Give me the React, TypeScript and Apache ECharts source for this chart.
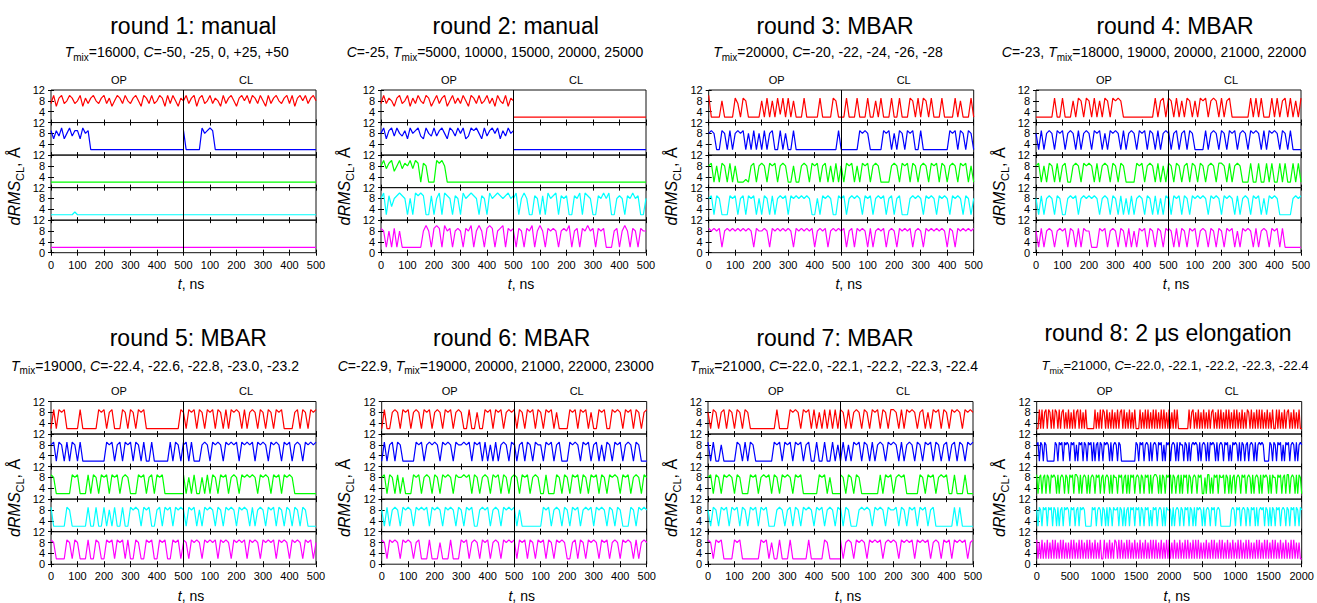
import React, { useEffect, useRef } from 'react';
import * as echarts from 'echarts';

const FONT = "'Liberation Sans', Arial, sans-serif";
const COLORS = ['#ff0000', '#0000ff', '#00ff00', '#00ffff', '#ff00ff'];

const TITLES = [
  'round 1: manual', 'round 2: manual', 'round 3: MBAR', 'round 4: MBAR',
  'round 5: MBAR', 'round 6: MBAR', 'round 7: MBAR', 'round 8: 2 µs elongation',
];

const SUBTITLES: [string, string][][] = [
  [['i', 'T'], ['s', 'mix'], ['n', '=16000, '], ['i', 'C'], ['n', '=-50, -25, 0, +25, +50']],
  [['i', 'C'], ['n', '=-25, '], ['i', 'T'], ['s', 'mix'], ['n', '=5000, 10000, 15000, 20000, 25000']],
  [['i', 'T'], ['s', 'mix'], ['n', '=20000, '], ['i', 'C'], ['n', '=-20, -22, -24, -26, -28']],
  [['i', 'C'], ['n', '=-23, '], ['i', 'T'], ['s', 'mix'], ['n', '=18000, 19000, 20000, 21000, 22000']],
  [['i', 'T'], ['s', 'mix'], ['n', '=19000, '], ['i', 'C'], ['n', '=-22.4, -22.6, -22.8, -23.0, -23.2']],
  [['i', 'C'], ['n', '=-22.9, '], ['i', 'T'], ['s', 'mix'], ['n', '=19000, 20000, 21000, 22000, 23000']],
  [['i', 'T'], ['s', 'mix'], ['n', '=21000, '], ['i', 'C'], ['n', '=-22.0, -22.1, -22.2, -22.3, -22.4']],
  [['i', 'T'], ['s', 'mix'], ['n', '=21000, '], ['i', 'C'], ['n', '=-22.0, -22.1, -22.2, -22.3, -22.4']],
];

const HALF_LABELS = ['OP', 'CL'];
const HALF_SPAN = [500, 500, 500, 500, 500, 500, 500, 2000];
const X_TICK_STEP = [100, 100, 100, 100, 100, 100, 100, 500];
const Y_TICKS = [0, 4, 8, 12];

// dRMS_CL values (Å), one hex digit per sample (a = 10)
// rounds 1-7: one sample per 10 ns (0..500 ns); round 8: one per 20 ns (0..2000 ns)
const R1_OP = [
  '7a69a78a97 8a6979a879 a7968a97a8 79a86a97a7 8a96a7a869 8',
  '9697a68a79 96a8922222 2222222222 2222222222 2222222222 2',
  '2222222222 2222222222 2222222222 2222222222 2222222222 2',
  '2222222223 2222222222 2222222222 2222222222 2222222222 2',
  '2222222222 2222222222 2222222222 2222222222 2222222222 2',
];
const R1_CL = [
  '8a79a69a78 a7986a79a8 69a8a7a97a 86a79a879a 7a69a8a79a 8',
  '9222222a89 a922222222 2222222222 2222222222 2222222222 2',
  '2222222222 2222222222 2222222222 2222222222 2222222222 2',
  '2222222222 2222222222 2222222222 2222222222 2222222222 2',
  '2222222222 2222222222 2222222222 2222222222 2222222222 2',
];
const R2_OP = [
  '7a79869a78 a697a87a96 8a79a68a79 7a86a97a78 a796a87a69 8',
  '8a69a7a879 6a89a76a87 a79a86a97a 8a67a9a86a 79a8a697a8 9',
  '8a79a68a79 8a7a929822 2a9a822222 2222222222 2222222222 2',
  '8a29589a98 282a9a9229 28a2a98298 2a89a98298 2a89a989a8 9',
  '9828292822 2222228a82 9a92a89289 8298a28a82 9a9289a298 9',
];
const R2_CL = [
  '2222222222 2222222222 2222222222 2222222222 2222222222 2',
  '2222222222 2222222222 2222222222 2222222222 2222222222 2',
  '2222222222 2222222222 2222222222 2222222222 2222222222 2',
  '8a28a82298 292a89a298 92298a2a98 2298a8a228 98298a8922 8',
  '8298298a28 a829898289 8a289298a8 9298922289 28a8298298 8',
];
const R3_OP = [
  'a222282222 9729822222 8292829392 9282229222 2292222982 2',
  '8982298292 8989282928 2928922928 2292222222 2222222229 2',
  '8928298292 8222328928 9829892898 2282289829 8928928292 8',
  '8929822298 9289298928 2982928989 2989898982 2829898229 8',
  '9898928989 8989898298 8982989898 9829898989 2898928989 8',
];
const R3_CL = [
  '2292229222 9228292229 2292229829 2982922292 2229282229 2',
  '2222222989 8222229892 8298298922 9222222222 2989298298 2',
  '8298928298 9289822228 9829892982 8982989298 2898298928 2',
  '8928989829 8928989289 2892228989 8298982989 8298982982 8',
  '8928929898 2928989289 8298989289 8298989898 2982989898 9',
];
const R4_OP = [
  '2222222922 9222829829 8292829829 8982222222 2222292892 9',
  '8292898298 9289829289 8298928298 9829289829 8929829289 8',
  '8928298292 8922898298 9829289829 8298222298 9289829282 9',
  '8292898298 2289892898 9898289829 8292829289 8298292829 8',
  '8292898289 8929829298 8222989289 8298292829 8929829829 8',
];
const R4_CL = [
  '9829282982 8298928982 9289222222 2929292229 2928929282 9',
  '9289289298 2222928982 9829892898 2989829298 9829829222 2',
  '9829828929 8298289829 9829289822 2922922929 2292922929 2',
  '9298929829 8989829898 2989829289 8298928298 9822222898 9',
  '9829298298 9289829829 8298928298 9829289829 8929222222 2',
];
const R5_OP = [
  '2929892222 2922222298 9289222982 9829892222 2222222229 8',
  '8929829298 2922222222 2989289298 9298292292 2222292982 9',
  '9822222298 9222929829 8929892898 2229892892 9892222222 2',
  '9222229822 2222922922 9282922922 9898298922 8929892989 8',
  '9822229829 8222922982 2989298929 2298229892 2989229892 8',
];
const R5_CL = [
  '8298929829 8929829298 9829289829 8298298922 2289298298 9',
  '8929222898 2989829898 9298989298 9829898298 9289829898 9',
  '9282922829 2982989289 8298989829 8982989298 9822222222 2',
  '8298928298 9829829898 2989829289 8298929829 8298298222 2',
  '9829898298 9892989829 8989298982 9898929898 2989829892 8',
];
const R6_OP = [
  '2922898298 9289829892 8982989289 8229228229 8929892898 9',
  '2928929822 2229892898 9829898298 8989298929 2829289829 8',
  '8929829282 2298928982 9829898298 8989298289 8298929828 9',
  '8292898298 9829898929 8982989829 8298922898 9289829898 9',
  '9829898298 9828922292 2282229222 9892898298 9289829898 9',
];
const R6_CL = [
  '9298298929 8298928222 2989298928 2298922989 8298929828 9',
  '9289298298 8298928922 2989829892 8928298298 9289829822 2',
  '9829892898 2292229829 8298929829 8929829898 2989289829 8',
  '9282222222 2989289829 8298928989 2989829829 8222982989 8',
  '9298929829 8929829898 2289298298 9829892898 2989829289 8',
];
const R7_OP = [
  '8298289298 2982982222 2222229222 2989829892 9282929292 9',
  '9292282222 2982929822 2222298929 8929892892 2922922928 2',
  '8929829898 2982229892 8989298298 9829892222 2298928222 2',
  '8298298929 8929829892 9892228982 8929829898 2989289829 8',
  '9829892222 9892222222 9892822922 2922222292 2222982222 2',
];
const R7_CL = [
  '9829289829 8298929829 9829298982 8928298929 8298982989 8',
  '2928298929 8292898298 9829289829 8298929828 9289298298 9',
  '9829829822 2222292989 2898922222 9829892898 9229222922 2',
  '9298222898 9829898298 8929829892 9892892222 2229292222 2',
  '9289829898 2989892898 9829898929 8989289829 8929898928 9',
];
const R8_OP = [
  '2292928929 8292982928 9282928292 8929282922 2222928292 9829282928 2928929282 9282922292 8292928292 9282929282 9',
  '8929829822 2222982989 2989829892 8298929829 8929289298 2989829289 8298222222 2222298298 9289829289 8298928298 9',
  '9289289298 2989829289 8298298929 9829289829 2898298928 9289829298 8298928929 2989289829 8298929289 9829298298 9',
  '8298298929 8929829289 2989829892 8929898222 2298928982 9829298298 8929829289 2989298929 8298928298 9289829298 8',
  '9282928292 8292928292 9282829292 8292928292 9282928292 2928292829 8292928292 9282928292 8292829292 9282928292 9',
];
const R8_CL = [
  '9282929222 2222292892 8292829282 9289282929 2829292829 2928292829 8292829292 9282928292 2929282928 9282928292 2',
  '9289829298 8298292898 9829289829 2989829289 8298928298 9829298289 2898292898 9822229829 8298928298 9289829289 8',
  '8929828929 2989298289 8298922829 9282989298 8929829289 2898298928 9829289829 2989829298 8298928929 9289829298 2',
  '9829289829 8298929829 2989829289 8298928982 2222222898 2989289829 8298929289 8929829298 2989289829 8298929829 8',
  '9282928292 8292928292 9292828292 8292928292 9282928292 8292928292 9282829292 8292928292 9282928292 8292928282 2',
];

const ROUND_OP = [R1_OP, R2_OP, R3_OP, R4_OP, R5_OP, R6_OP, R7_OP, R8_OP];
const ROUND_CL = [R1_CL, R2_CL, R3_CL, R4_CL, R5_CL, R6_CL, R7_CL, R8_CL];

// layout (pixels)
const PANEL_LEFT = [51, 381, 708.7, 1036, 51, 381.7, 708, 1036.7];
const PLOT_W = 265;
const ROW_TOP = [90, 401.5];
const ROW_BOTTOM = [252.7, 564.2];
const TITLE_POS = [[193.3, 25.5], [515.7, 25.5], [835, 25.5], [1175, 25.5], [188.3, 337.5], [511.7, 337.5], [835, 337.5], [1168, 332.5]];
const SUB_POS = [[176.7, 52.3], [495, 52.3], [828, 52.3], [1154, 52.3], [155, 365.5], [495.7, 365.5], [834, 365.5], [1175, 365]];
const SUB_SIZE = [14, 14, 14, 14, 14, 14, 14, 13];
const HALF_LABEL_Y = [79.5, 391];
const XTITLE_Y = [283.5, 596];

const parseTrace = (s: string) => s.replace(/\s+/g, '').split('').map((c) => parseInt(c, 16));

function buildOption() {
  const grid: any[] = [];
  const xAxis: any[] = [];
  const yAxis: any[] = [];
  const xAxisTop: any[] = [];
  const yAxisRight: any[] = [];
  const series: any[] = [];
  const graphic: any[] = [];
  const tickStyle = { color: '#000', width: 1 };

  for (let p = 0; p < 8; p++) {
    const row = p < 4 ? 0 : 1;
    const left = PANEL_LEFT[p];
    const top = ROW_TOP[row];
    const h = (ROW_BOTTOM[row] - ROW_TOP[row]) / 5;
    const half = HALF_SPAN[p];
    for (let k = 0; k < 5; k++) {
      const gi = p * 5 + k;
      grid.push({
        left, top: top + k * h, width: PLOT_W, height: h,
        show: true, borderColor: '#111', borderWidth: 1, backgroundColor: 'transparent',
      });
      xAxis.push({
        type: 'value', gridIndex: gi, min: 0, max: 2 * half, interval: X_TICK_STEP[p], position: 'bottom',
        axisLine: { show: false }, splitLine: { show: false },
        axisTick: { show: true, inside: true, length: 3, lineStyle: tickStyle },
        axisLabel: {
          show: k === 4, fontSize: 11, color: '#000', fontFamily: FONT, margin: 6, lineHeight: 12,
          showMinLabel: true, showMaxLabel: true, hideOverlap: false,
          formatter: (v: number) => String(v > half ? v - half : v),
        },
      });
      xAxisTop.push({
        type: 'value', gridIndex: gi, min: 0, max: 2 * half, interval: X_TICK_STEP[p], position: 'top',
        axisLine: { show: false }, splitLine: { show: false },
        axisTick: { show: true, inside: true, length: 3, lineStyle: tickStyle },
        axisLabel: { show: false },
      });
      yAxis.push({
        type: 'value', gridIndex: gi, min: 0, max: 12, interval: 4, position: 'left',
        axisLine: { show: false }, splitLine: { show: false },
        axisTick: { show: true, inside: true, length: 3, lineStyle: tickStyle },
        axisLabel: {
          fontSize: 11, color: '#000', fontFamily: FONT, margin: 6, lineHeight: 9,
          showMinLabel: true, showMaxLabel: true, hideOverlap: false,
          formatter: (v: number) => (v === Y_TICKS[0] && k < 4 ? '' : String(v)),
        },
      });
      yAxisRight.push({
        type: 'value', gridIndex: gi, min: 0, max: 12, interval: 4, position: 'right',
        axisLine: { show: false }, splitLine: { show: false },
        axisTick: { show: true, inside: true, length: 3, lineStyle: tickStyle },
        axisLabel: { show: false },
      });
      const color = COLORS[k];
      const halves = [ROUND_OP[p][k], ROUND_CL[p][k]];
      halves.forEach((str, hIdx) => {
        const vals = parseTrace(str);
        const step = half / (vals.length - 1);
        const offset = hIdx * half;
        const s: any = {
          type: 'line', xAxisIndex: gi, yAxisIndex: gi,
          data: vals.map((v, i) => [offset + i * step, v]),
          symbol: 'none', showSymbol: false, silent: true, z: 2,
          lineStyle: { width: 1.2, color }, itemStyle: { color },
        };
        if (hIdx === 0) {
          s.markLine = {
            silent: true, symbol: ['none', 'none'], label: { show: false }, animation: false,
            lineStyle: { color: '#000', width: 1, type: 'solid' },
            data: [{ xAxis: half }],
          };
        }
        series.push(s);
      });
    }

    graphic.push({
      type: 'text', x: TITLE_POS[p][0], y: TITLE_POS[p][1],
      style: {
        text: TITLES[p], fontSize: 23, fontFamily: FONT, fill: '#000',
        align: 'center', verticalAlign: 'middle', textAlign: 'center', textVerticalAlign: 'middle',
      },
    });
    const fs = SUB_SIZE[p];
    const subText = SUBTITLES[p].map(([st, t]) => `{${st}|${t}}`).join('');
    graphic.push({
      type: 'text', x: SUB_POS[p][0], y: SUB_POS[p][1],
      style: {
        text: subText, fontSize: fs, fontFamily: FONT, fill: '#000',
        align: 'center', verticalAlign: 'middle', textAlign: 'center', textVerticalAlign: 'middle',
        rich: {
          n: { fontSize: fs, fontFamily: FONT, fill: '#000', lineHeight: 20 },
          i: { fontSize: fs, fontFamily: FONT, fill: '#000', fontStyle: 'italic', lineHeight: 20 },
          s: { fontSize: fs - 4, fontFamily: FONT, fill: '#000', lineHeight: 13, verticalAlign: 'bottom' },
        },
      },
    });
    HALF_LABELS.forEach((lab, i) => {
      graphic.push({
        type: 'text', x: left + (i === 0 ? 68 : 195), y: HALF_LABEL_Y[row],
        style: {
          text: lab, fontSize: 11, fontFamily: FONT, fill: '#000',
          align: 'center', verticalAlign: 'middle', textAlign: 'center', textVerticalAlign: 'middle',
        },
      });
    });
    graphic.push({
      type: 'text', x: left + 140, y: XTITLE_Y[row],
      style: {
        text: '{i|t}{n|, ns}', fontSize: 14, fontFamily: FONT, fill: '#000',
        align: 'center', verticalAlign: 'middle', textAlign: 'center', textVerticalAlign: 'middle',
        rich: {
          n: { fontSize: 14, fontFamily: FONT, fill: '#000', lineHeight: 20 },
          i: { fontSize: 14, fontFamily: FONT, fill: '#000', fontStyle: 'italic', lineHeight: 20 },
        },
      },
    });
    graphic.push({
      type: 'text', x: left - 37, y: (ROW_TOP[row] + ROW_BOTTOM[row]) / 2 + 15, rotation: Math.PI / 2,
      style: {
        text: '{i|dRMS}{s|CL}{n|, Å}', fontSize: 16, fontFamily: FONT, fill: '#000',
        align: 'center', verticalAlign: 'middle', textAlign: 'center', textVerticalAlign: 'middle',
        rich: {
          n: { fontSize: 16, fontFamily: FONT, fill: '#000', lineHeight: 22 },
          i: { fontSize: 16, fontFamily: FONT, fill: '#000', fontStyle: 'italic', lineHeight: 22 },
          s: { fontSize: 11, fontFamily: FONT, fill: '#000', lineHeight: 13, verticalAlign: 'bottom' },
        },
      },
    });
  }

  return {
    animation: false,
    backgroundColor: '#fff',
    grid,
    xAxis: [...xAxis, ...xAxisTop],
    yAxis: [...yAxis, ...yAxisRight],
    series,
    graphic,
  };
}

export default function App() {
  const ref = useRef<HTMLDivElement>(null);
  useEffect(() => {
    if (!ref.current) return;
    const chart = echarts.init(ref.current, undefined, { renderer: 'svg' });
    chart.setOption(buildOption() as any);
    return () => chart.dispose();
  }, []);
  return (
    <div
      ref={ref}
      style={{ position: 'absolute', left: 0, top: 0, width: 1317, height: 603, background: '#fff' }}
    />
  );
}
